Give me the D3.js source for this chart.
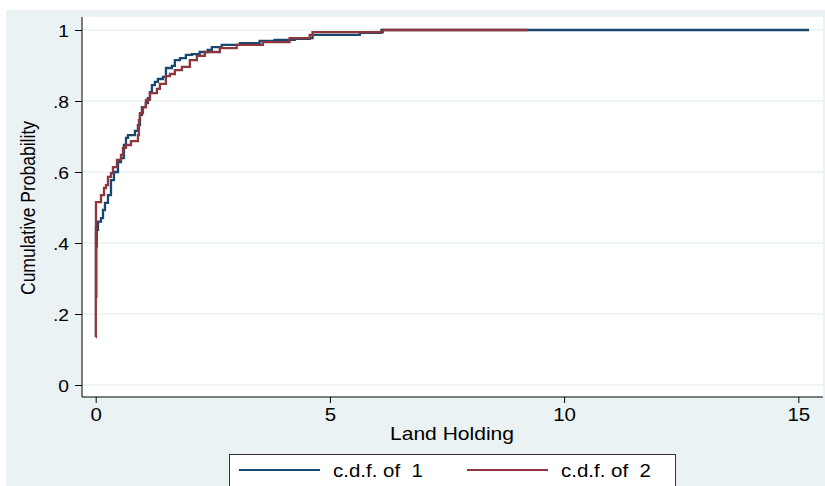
<!DOCTYPE html>
<html>
<head>
<meta charset="utf-8">
<script src="https://cdn.jsdelivr.net/npm/d3@7"></script>
<style>
  body { margin: 0; background: #ffffff; }
  text { font-family: "Liberation Sans", Arial, sans-serif; fill: #000; }
</style>
</head>
<body>
<div id="container"></div>
<script>
// Step points of each c.d.f. (land holding where the step happens, new probability)
var land1 = [0.006, 0.013, 0.023, 0.049, 0.113, 0.156, 0.198, 0.262, 0.326, 0.39, 0.476, 0.54, 0.603, 0.646, 0.689,
             0.838, 0.902, 0.945, 0.987, 1.07, 1.115, 1.158, 1.2, 1.264, 1.328, 1.435, 1.5, 1.627, 1.69, 1.8,
             1.925, 2.053, 2.22, 2.39, 2.48, 2.69, 3.08, 3.5, 3.82, 4.25, 4.57, 4.63, 5.64, 6.1, 15.23];
var cdf1  = [0.248, 0.39, 0.437, 0.46, 0.47, 0.493, 0.513, 0.535, 0.577, 0.6, 0.628, 0.639, 0.676, 0.696, 0.704,
             0.716, 0.732, 0.761, 0.783, 0.794, 0.808, 0.825, 0.845, 0.854, 0.862, 0.868, 0.893, 0.899, 0.915, 0.921,
             0.93, 0.932, 0.938, 0.944, 0.952, 0.958, 0.963, 0.969, 0.972, 0.975, 0.977, 0.986, 0.992, 1.0, 1.0];

var land2 = [0.0, 0.002, 0.006, 0.113, 0.177, 0.22, 0.262, 0.326, 0.369, 0.454, 0.54, 0.582, 0.646, 0.753, 0.902,
             0.923, 0.945, 1.009, 1.072, 1.158, 1.307, 1.371, 1.499, 1.584, 1.69, 1.84, 2.01, 2.16, 2.33, 2.65,
             3.01, 3.57, 4.14, 4.57, 4.63, 6.13, 9.22];
var cdf2  = [0.135, 0.445, 0.515, 0.535, 0.555, 0.563, 0.586, 0.597, 0.614, 0.634, 0.648, 0.668, 0.676, 0.687, 0.704,
             0.746, 0.766, 0.783, 0.803, 0.822, 0.834, 0.848, 0.87, 0.876, 0.887, 0.896, 0.915, 0.927, 0.938, 0.949,
             0.958, 0.966, 0.977, 0.986, 0.994, 1.0, 1.0];

var xTicks = [0, 5, 10, 15];
var yTicks = [0, 0.2, 0.4, 0.6, 0.8, 1];
var yTickLabels = ["0", ".2", ".4", ".6", ".8", "1"];
var seriesNames = ["c.d.f. of  1", "c.d.f. of  2"];
var seriesColors = ["#1a476f", "#90353b"];

var width = 825, height = 486;
var plot = {left: 82, right: 823, top: 17, bottom: 397};
var stretch = 1.17; // picture text looks a bit wide

var svg = d3.select("#container").append("svg")
    .attr("width", width)
    .attr("height", height);

// outer graph region
svg.append("rect")
    .attr("x", 6).attr("y", 10)
    .attr("width", width - 6).attr("height", height - 10)
    .attr("fill", "#eaf2f3");

svg.append("rect")
    .attr("x", plot.left).attr("y", plot.top)
    .attr("width", plot.right - plot.left).attr("height", plot.bottom - plot.top)
    .attr("fill", "#ffffff");

var xScale = d3.scaleLinear().domain([0, 15]).range([95.7, 798.3]);
var yScale = d3.scaleLinear().domain([0, 1]).range([385, 30]);

// grid lines
svg.selectAll(".grid")
    .data(yTicks)
    .enter().append("line")
    .attr("class", "grid")
    .attr("x1", plot.left).attr("x2", plot.right)
    .attr("y1", function(d){ return yScale(d); })
    .attr("y2", function(d){ return yScale(d); })
    .attr("stroke", "#eaf2f3")
    .attr("stroke-width", 1.5);

// y axis
var yAxis = d3.axisLeft(yScale)
    .tickValues(yTicks)
    .tickSize(7)
    .tickFormat(function(d, i){ return yTickLabels[i]; });
var gy = svg.append("g")
    .attr("transform", "translate(" + plot.left + ",0)")
    .call(yAxis);
gy.select(".domain").attr("d", "M0," + plot.top + "V" + plot.bottom).attr("stroke", "#000");
gy.selectAll(".tick line").attr("stroke", "#000");
gy.selectAll(".tick text")
    .attr("x", null).attr("dy", null)
    .attr("font-size", 16.5)
    .attr("font-family", "Liberation Sans, Arial, sans-serif")
    .attr("text-anchor", "end")
    .attr("transform", "translate(-13,6) scale(" + stretch + ",1)");

// x axis
var xAxis = d3.axisBottom(xScale)
    .tickValues(xTicks)
    .tickSize(6)
    .tickFormat(d3.format("d"));
var gx = svg.append("g")
    .attr("transform", "translate(0," + plot.bottom + ")")
    .call(xAxis);
gx.select(".domain").attr("d", "M" + plot.left + ",0H" + plot.right).attr("stroke", "#000");
gx.selectAll(".tick line").attr("stroke", "#000");
gx.selectAll(".tick text")
    .attr("y", null).attr("dy", null)
    .attr("font-size", 17.5)
    .attr("font-family", "Liberation Sans, Arial, sans-serif")
    .attr("transform", "translate(0,24) scale(" + stretch + ",1)");

// axis titles
svg.append("text")
    .attr("transform", "translate(452,440) scale(" + stretch + ",1)")
    .attr("text-anchor", "middle")
    .attr("font-size", 18)
    .text("Land Holding");

svg.append("text")
    .attr("transform", "translate(35,208) rotate(-90) scale(1," + stretch + ")")
    .attr("text-anchor", "middle")
    .attr("font-size", 17.5)
    .text("Cumulative Probability");

// the two c.d.f. lines
var line = d3.line()
    .x(function(d){ return xScale(d[0]); })
    .y(function(d){ return yScale(d[1]); })
    .curve(d3.curveStepAfter);

var series = [d3.zip(land1, cdf1), d3.zip(land2, cdf2)];
svg.selectAll(".cdf")
    .data(series)
    .enter().append("path")
    .attr("class", "cdf")
    .attr("d", line)
    .attr("fill", "none")
    .attr("stroke", function(d, i){ return seriesColors[i]; })
    .attr("stroke-width", 2.3);

// legend
svg.append("rect")
    .attr("x", 229.5).attr("y", 454.5)
    .attr("width", 446).attr("height", 40)
    .attr("fill", "#ffffff")
    .attr("stroke", "#333")
    .attr("stroke-width", 1);

var legendX = [239, 467];
seriesNames.forEach(function(name, i){
    svg.append("line")
        .attr("x1", legendX[i]).attr("x2", legendX[i] + 81)
        .attr("y1", 470).attr("y2", 470)
        .attr("stroke", seriesColors[i])
        .attr("stroke-width", 2);
    svg.append("text")
        .attr("transform", "translate(" + (legendX[i] + 94) + ",477) scale(" + stretch + ",1)")
        .attr("font-size", 17.5)
        .attr("xml:space", "preserve")
        .style("white-space", "pre")
        .text(name);
});
</script>
</body>
</html>
